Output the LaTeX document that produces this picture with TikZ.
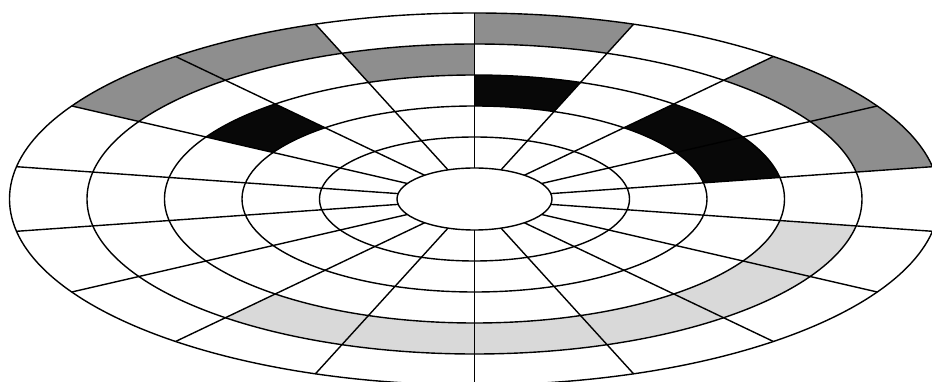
\documentclass[tikz,border=0pt]{standalone}
\begin{document}
\begin{tikzpicture}[x=77.5pt,y=31pt,line width=1.4pt,line join=round]
\definecolor{dgray}{HTML}{8E8E8E}
\definecolor{lgray}{HTML}{D9D9D9}
\definecolor{blk}{HTML}{080808}
\useasboundingbox[fill=white] (-474.5pt,-183pt) rectangle (457.5pt,199pt);
% sector fill: inner ring index, start angle, end angle, colour
\newcommand\disksector[4]{%
  \pgfmathsetmacro\ro{#1+1}%
  \fill[#4] (#2:#1) -- (#2:\ro) arc[start angle=#2, end angle=#3, radius=\ro]
    -- (#3:#1) arc[start angle=#3, end angle=#2, radius=#1] -- cycle;}
% dark grey sectors
\disksector{5}{10}{30}{dgray}
\disksector{5}{30}{50}{dgray}
\disksector{5}{70}{90}{dgray}
\disksector{5}{110}{130}{dgray}
\disksector{5}{130}{150}{dgray}
\disksector{4}{90}{110}{dgray}
% black sectors
\disksector{3}{10}{50}{blk}
\disksector{3}{70}{90}{blk}
\disksector{3}{130}{150}{blk}
% light grey sectors
\disksector{4}{230}{350}{lgray}
% rings
\foreach \k in {1,...,6} \draw (0,0) circle[radius=\k];
% radial lines
\foreach \t in {10,30,...,350} \draw (\t:1) -- (\t:6);
\coordinate (c) at (0,0);
\end{tikzpicture}
\end{document}
